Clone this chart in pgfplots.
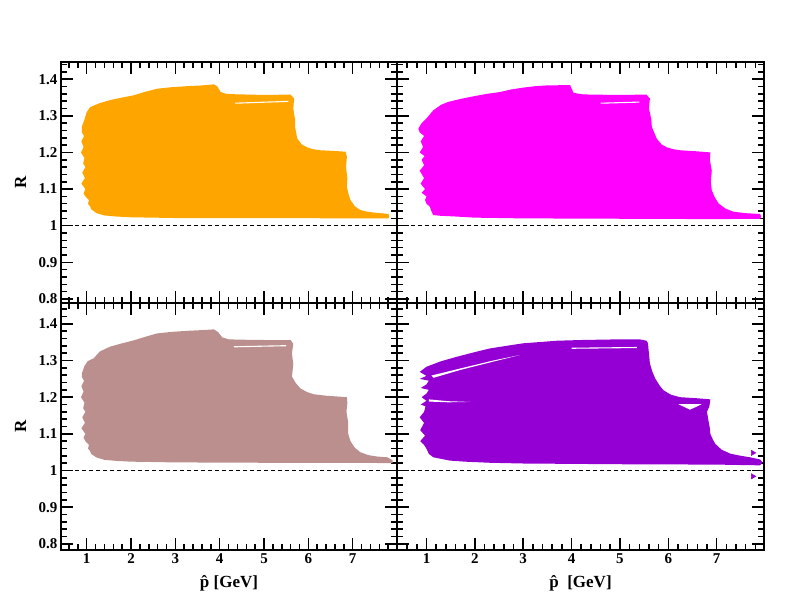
\documentclass[border=0pt]{standalone}
\usepackage{fontspec}
\setmainfont{Liberation Serif}
\usepackage{pgfplots}
\pgfplotsset{compat=1.18}
\definecolor{pOrange}{HTML}{FFA500}
\definecolor{pMagenta}{HTML}{FF00FF}
\definecolor{pRosy}{HTML}{BC8F8F}
\definecolor{pViolet}{HTML}{9400D3}

\pgfplotsset{
  panel/.style={
    scale only axis, anchor=south west,
    axis line style={line width=1.8pt},
    xtick={1,2,3,4,5,6,7},
    ytick={0.8,0.9,1.0,1.1,1.2,1.3,1.4},
    minor xtick={0.6,0.8,...,7.8},
    minor ytick={0.80,0.82,...,1.44},
    major tick length=12pt, minor tick length=6pt,
    tick style={black, line width=1.5pt},
    tick align=inside,
    ticklabel style={font=\fontsize{15}{15}\selectfont\bfseries},
    /pgf/number format/assume math mode=true,
    label style={font=\fontsize{17}{17}\selectfont\bfseries},
    xlabel style={at={(axis description cs:0.5,-0.135)}, anchor=center},
    ylabel style={at={(axis description cs:-0.12,0.5)}, anchor=center},
  },
  unity/.style={black, line width=0.9pt, dash pattern=on 4pt off 3pt},
}

\begin{document}
\begin{tikzpicture}[x=1pt,y=1pt]
\useasboundingbox (0pt,0pt) rectangle (792pt,612pt);

% top left
\begin{axis}[panel, at={(61pt,309pt)}, width=336pt, height=241pt,
  xmin=0.42, xmax=8.0, ymin=0.789, ymax=1.447, xticklabels={}, ylabel={R}]
\addplot[fill=pOrange, draw=none] coordinates {
(0.89,1.27) (0.95,1.29) (1.0,1.31) (1.08,1.324) (1.3,1.335) (1.53,1.343)
(1.8,1.35) (2.06,1.356) (2.3,1.365) (2.59,1.374) (2.9,1.378) (3.26,1.381)
(3.6,1.383) (3.87,1.386) (3.95,1.38) (4.02,1.365) (4.15,1.36) (4.32,1.359)
(5.0,1.357) (5.6,1.358) (5.68,1.347) (5.66,1.32) (5.7,1.29) (5.7,1.27)
(5.75,1.238) (5.85,1.222) (5.97,1.214) (6.1,1.209) (6.27,1.206) (6.6,1.204)
(6.84,1.202) (6.87,1.188) (6.85,1.16) (6.88,1.13) (6.87,1.106) (6.91,1.085)
(6.95,1.07) (7.05,1.053) (7.17,1.043) (7.3,1.039) (7.47,1.036) (7.65,1.034)
(7.81,1.032) (7.82,1.025) (7.81,1.02) (7.0,1.02) (5.0,1.021) (3.0,1.021)
(2.0,1.023) (1.68,1.025) (1.4,1.028) (1.23,1.034) (1.1,1.045) (1.08,1.052)
(1.03,1.06) (1.05,1.07) (0.97,1.08) (0.93,1.088) (0.97,1.10) (0.88,1.115)
(0.96,1.13) (0.9,1.145) (0.97,1.16) (0.92,1.17) (0.95,1.185) (0.87,1.2)
(0.93,1.215) (0.88,1.23) (0.94,1.245) (0.89,1.255)};
\addplot[fill=white, draw=none] coordinates {(4.35,1.333) (5.55,1.338) (5.55,1.341) (4.35,1.336)};
\addplot[unity] coordinates {(0.42,1) (8.0,1)};
\end{axis}

% top right
\begin{axis}[panel, at={(397pt,309pt)}, width=367pt, height=241pt,
  xmin=0.39, xmax=7.98, ymin=0.789, ymax=1.447, xticklabels={}, yticklabels={}]
\addplot[fill=pMagenta, draw=none] coordinates {
(0.83,1.265) (0.9,1.28) (1.0,1.293) (1.14,1.315) (1.3,1.33) (1.45,1.338)
(1.7,1.346) (1.96,1.353) (2.25,1.36) (2.52,1.365) (2.75,1.372) (3.0,1.377)
(3.25,1.381) (3.48,1.383) (3.97,1.384) (4.0,1.375) (4.04,1.363) (4.2,1.359)
(4.38,1.358) (5.0,1.357) (5.55,1.358) (5.62,1.347) (5.6,1.32) (5.65,1.29)
(5.66,1.27) (5.76,1.238) (5.86,1.222) (5.97,1.214) (6.1,1.209) (6.24,1.206)
(6.6,1.203) (6.87,1.2) (6.86,1.18) (6.9,1.15) (6.88,1.12) (6.9,1.097)
(6.96,1.078) (7.04,1.061) (7.18,1.047) (7.35,1.038) (7.62,1.034) (7.9,1.032)
(7.92,1.025) (7.9,1.019) (7.0,1.018) (5.0,1.019) (3.0,1.02) (2.0,1.022)
(1.62,1.025) (1.3,1.027) (1.14,1.029) (1.1,1.04) (1.07,1.052) (1.0,1.06)
(0.97,1.07) (1.0,1.08) (0.9,1.09) (0.97,1.1) (0.88,1.115) (0.95,1.13)
(0.86,1.15) (0.95,1.165) (0.9,1.18) (0.96,1.19) (0.86,1.2) (0.93,1.215)
(0.88,1.23) (0.95,1.245) (0.86,1.255)};
\addplot[fill=white, draw=none] coordinates {(4.6,1.333) (5.4,1.336) (5.4,1.339) (4.6,1.336)};
\addplot[unity] coordinates {(0.39,1) (7.98,1)};
\end{axis}

% bottom left
\begin{axis}[panel, at={(61pt,62pt)}, width=336pt, height=247pt,
  xmin=0.42, xmax=8.0, ymin=0.783, ymax=1.457, ylabel={R},
  xlabel={\^{p} [GeV]}]
\addplot[fill=pRosy, draw=none] coordinates {
(0.89,1.265) (0.95,1.285) (1.02,1.298) (1.156,1.306) (1.3,1.325) (1.53,1.338)
(1.8,1.347) (2.06,1.355) (2.3,1.364) (2.59,1.374) (2.9,1.378) (3.26,1.381)
(3.6,1.383) (3.87,1.385) (3.96,1.378) (4.06,1.363) (4.2,1.358) (4.4,1.357)
(5.0,1.356) (5.6,1.356) (5.66,1.345) (5.63,1.32) (5.66,1.29) (5.63,1.256)
(5.72,1.238) (5.82,1.224) (5.97,1.214) (6.12,1.208) (6.4,1.204) (6.87,1.2)
(6.88,1.185) (6.86,1.16) (6.9,1.13) (6.9,1.1) (6.95,1.08) (7.05,1.062)
(7.17,1.05) (7.35,1.042) (7.55,1.038) (7.78,1.036) (7.9,1.028) (7.9,1.02)
(7.0,1.021) (5.0,1.021) (3.0,1.022) (2.0,1.024) (1.68,1.026) (1.4,1.029)
(1.23,1.035) (1.1,1.045) (1.08,1.052) (1.03,1.06) (1.05,1.07) (0.97,1.08)
(0.93,1.09) (0.97,1.10) (0.88,1.115) (0.96,1.13) (0.9,1.145) (0.97,1.16)
(0.92,1.17) (0.95,1.185) (0.87,1.2) (0.93,1.215) (0.88,1.23) (0.94,1.245)
(0.89,1.255)};
\addplot[fill=white, draw=none] coordinates {(4.32,1.336) (5.5,1.339) (5.5,1.342) (4.32,1.339)};
\addplot[unity] coordinates {(0.42,1) (8.0,1)};
\end{axis}

% bottom right
\begin{axis}[panel, at={(397pt,62pt)}, width=367pt, height=247pt,
  xmin=0.39, xmax=7.98, ymin=0.783, ymax=1.457, yticklabels={},
  xlabel={\^{p}\ \ [GeV]}]
\addplot[fill=pViolet, draw=none] coordinates {
(0.86,1.269) (1.0,1.283) (1.3,1.298) (1.62,1.31) (2.0,1.323) (2.31,1.333)
(2.7,1.341) (3.0,1.347) (3.4,1.351) (3.69,1.354) (4.2,1.356) (5.07,1.358)
(5.4,1.358) (5.55,1.354) (5.58,1.347) (5.6,1.32) (5.62,1.292) (5.67,1.27)
(5.73,1.251) (5.82,1.232) (5.9,1.219) (6.05,1.207) (6.24,1.2) (6.6,1.197)
(6.87,1.194) (6.85,1.175) (6.8,1.16) (6.83,1.137) (6.86,1.115) (6.87,1.1)
(6.92,1.085) (6.97,1.073) (7.1,1.057) (7.28,1.046) (7.5,1.04) (7.69,1.036)
(7.9,1.03) (7.95,1.022) (7.9,1.014) (7.0,1.016) (5.0,1.017) (3.0,1.019)
(2.31,1.021) (1.8,1.024) (1.48,1.027) (1.14,1.036) (1.05,1.045) (1.0,1.059)
(0.95,1.07) (0.87,1.08) (0.97,1.095) (0.87,1.11) (0.95,1.13) (0.86,1.145)
(0.95,1.16) (0.98,1.175) (0.88,1.18) (1.0,1.19) (0.9,1.2) (1.0,1.21)
(1.05,1.22) (0.88,1.225) (1.0,1.235) (1.05,1.245) (0.86,1.25) (1.0,1.258)};
\addplot[fill=white, draw=none] coordinates {(1.1,1.259) (1.69,1.278) (2.38,1.3) (2.93,1.315) (2.38,1.297) (1.69,1.274) (1.15,1.253)};
\addplot[fill=white, draw=none] coordinates {(1.05,1.194) (1.45,1.189) (1.9,1.187) (1.45,1.186) (1.05,1.188)};
\addplot[fill=white, draw=none] coordinates {(6.21,1.181) (6.69,1.181) (6.55,1.172) (6.45,1.166) (6.35,1.172)};
\addplot[fill=white, draw=none] coordinates {(4.0,1.332) (5.35,1.334) (5.35,1.337) (4.0,1.335)};
\addplot[only marks, mark=triangle*, mark size=3pt, mark options={rotate=-90, fill=pViolet, draw=pViolet}] coordinates {(7.75,1.048) (7.75,0.984)};
\addplot[unity] coordinates {(0.39,1) (7.98,1)};
\end{axis}
\end{tikzpicture}
\end{document}
